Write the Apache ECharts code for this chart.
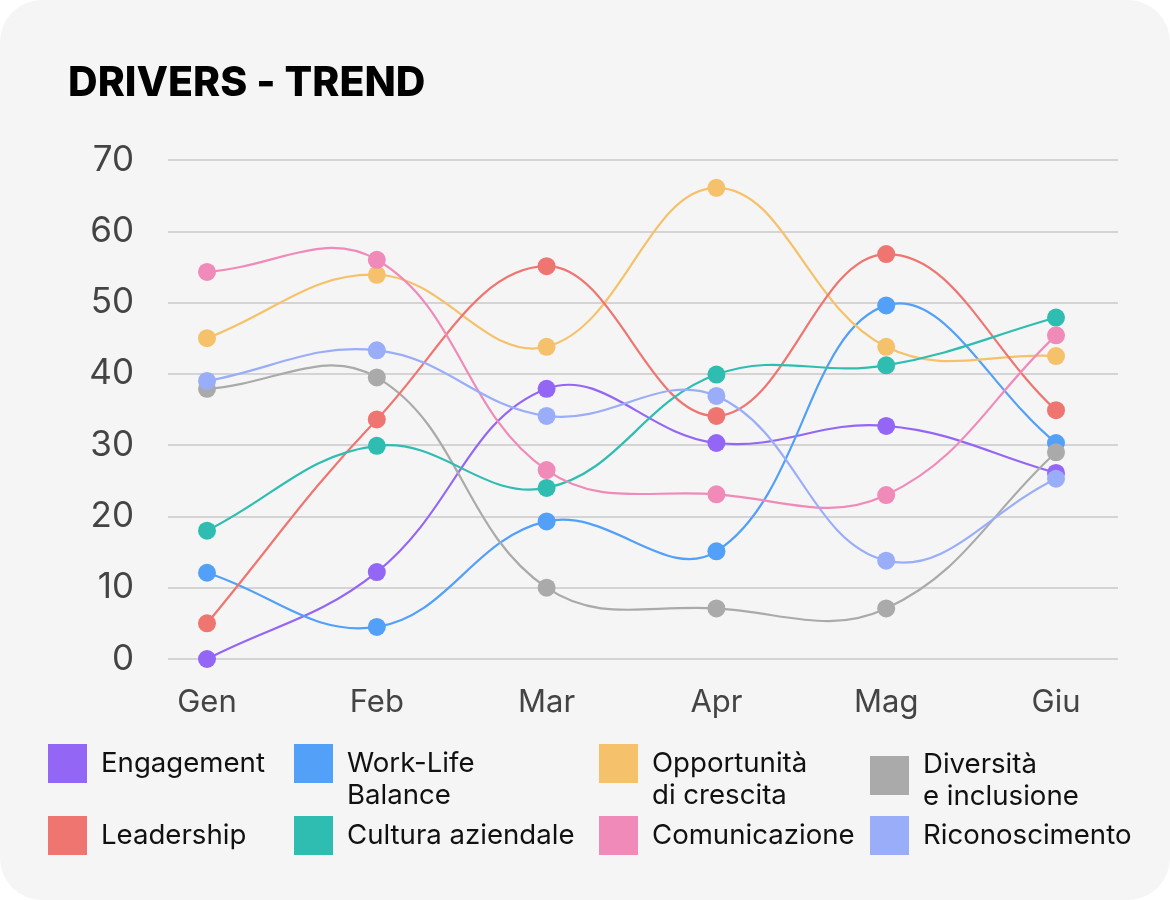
<!DOCTYPE html>
<html>
<head>
<meta charset="utf-8">
<script src="https://cdn.jsdelivr.net/npm/echarts@6/dist/echarts.min.js"></script>
<style>
  html, body { margin: 0; padding: 0; background: #ffffff; }
  #card { width: 1170px; height: 900px; background: #f5f5f5; border-radius: 42px; overflow: hidden; }
  #chart { width: 1170px; height: 900px; }
</style>
</head>
<body>
<div id="card"><div id="chart"></div></div>
<script>
const months = ["Gen", "Feb", "Mar", "Apr", "Mag", "Giu"];

const engagement = [0, 12.2, 37.9, 30.3, 32.7, 26.1];
const workLife = [12.1, 4.5, 19.3, 15.1, 49.6, 30.3];
const opportunita = [45, 53.9, 43.8, 66.1, 43.8, 42.5];
const diversita = [37.9, 39.5, 10, 7.1, 7.1, 29];
const leadership = [5, 33.6, 55.1, 34.1, 56.8, 34.9];
const cultura = [18, 29.9, 24, 39.9, 41.2, 47.9];
const comunicazione = [54.3, 56, 26.5, 23.1, 23, 45.4];
const riconoscimento = [39, 43.3, 34.1, 36.9, 13.8, 25.3];

const FONT = "Inter";
const LEGEND_SIZE = 27.6;
const TENSION = 0.4;

const drivers = [
  { name: "Engagement", label: "Engagement", color: "#9466f5", data: engagement, left: 48, top: 744 },
  { name: "Work-Life Balance", label: "\nWork-Life\nBalance", color: "#52a0f8", data: workLife, left: 294, top: 715.5 },
  { name: "Opportunità di crescita", label: "\nOpportunità\ndi crescita", color: "#f5c26b", data: opportunita, left: 599, top: 715.5 },
  { name: "Diversità e inclusione", label: "{s| }\n{d|Diversità}\n{d|e inclusione}", color: "#aaaaab", data: diversita, left: 870, top: 738.5 },
  { name: "Leadership", label: "Leadership", color: "#ef7571", data: leadership, left: 48, top: 816 },
  { name: "Cultura aziendale", label: "Cultura aziendale", color: "#2fbdb1", data: cultura, left: 294, top: 816 },
  { name: "Comunicazione", label: "Comunicazione", color: "#f08ab9", data: comunicazione, left: 599, top: 816 },
  { name: "Riconoscimento", label: "Riconoscimento", color: "#9aadf8", data: riconoscimento, left: 870, top: 816 },
];

// cardinal spline control points around cur (tension t)
function controlPoints(prev, cur, next, t) {
  const d01 = Math.hypot(cur[0] - prev[0], cur[1] - prev[1]);
  const d12 = Math.hypot(next[0] - cur[0], next[1] - cur[1]);
  let s01 = d01 / (d01 + d12);
  let s12 = d12 / (d01 + d12);
  if (isNaN(s01)) s01 = 0;
  if (isNaN(s12)) s12 = 0;
  const fa = t * s01;
  const fb = t * s12;
  return {
    prev: [cur[0] - fa * (next[0] - prev[0]), cur[1] - fa * (next[1] - prev[1])],
    next: [cur[0] + fb * (next[0] - prev[0]), cur[1] + fb * (next[1] - prev[1])],
  };
}

function curveRenderer(values, color) {
  return function (params, api) {
    const i = params.dataIndex;
    const n = values.length;
    if (i >= n - 1) return null;
    const pt = (k) => api.coord([k, values[k]]);
    const p0 = pt(Math.max(i - 1, 0));
    const p1 = pt(i);
    const p2 = pt(i + 1);
    const p3 = pt(Math.min(i + 2, n - 1));
    const c1 = controlPoints(p0, p1, p2, TENSION);
    const c2 = controlPoints(p1, p2, p3, TENSION);
    return {
      type: "bezierCurve",
      shape: {
        x1: p1[0], y1: p1[1],
        x2: p2[0], y2: p2[1],
        cpx1: c1.next[0], cpy1: c1.next[1],
        cpx2: c2.prev[0], cpy2: c2.prev[1],
      },
      style: { stroke: color, lineWidth: 2.2, fill: null },
      silent: true,
    };
  };
}

const chart = echarts.init(document.getElementById("chart"));

const curveSeries = drivers.map((d) => ({
  type: "custom",
  coordinateSystem: "cartesian2d",
  xAxisIndex: 1,
  yAxisIndex: 1,
  data: d.data.map((v, i) => [i, v]),
  encode: { x: 0, y: 1 },
  renderItem: curveRenderer(d.data, d.color),
  z: 2,
}));

const markerSeries = drivers.map((d) => ({
  name: d.name,
  type: "line",
  xAxisIndex: 1,
  yAxisIndex: 1,
  data: d.data,
  symbol: "circle",
  symbolSize: 18,
  showSymbol: true,
  color: d.color,
  lineStyle: { width: 0, opacity: 0 },
  itemStyle: { color: d.color },
  z: 3,
}));

const option = {
  backgroundColor: "transparent",
  animation: false,
  title: {
    text: "DRIVERS - TREND",
    left: 68,
    top: 63,
    padding: 0,
    textStyle: { fontFamily: FONT, fontWeight: 800, fontSize: 41, color: "#000000" },
  },
  legend: drivers.map((d) => ({
    data: [d.name],
    left: d.left,
    top: d.top,
    padding: 0,
    selectedMode: false,
    icon: "rect",
    itemWidth: 39,
    itemHeight: 39,
    formatter: () => d.label,
    textStyle: {
      fontFamily: FONT,
      fontSize: LEGEND_SIZE,
      color: "#111111",
      lineHeight: 32,
      padding: [0, 0, 0, 9],
      rich: {
        s: { fontSize: 6, lineHeight: 10 },
        d: { fontFamily: FONT, fontSize: LEGEND_SIZE, color: "#111111", lineHeight: 32 },
      },
    },
  })),
  grid: [
    { left: 168, right: 52, top: 160, bottom: 241 },
    { left: 207, right: 114, top: 160, bottom: 241 },
  ],
  xAxis: [
    {
      gridIndex: 0,
      type: "category",
      data: months,
      show: false,
    },
    {
      gridIndex: 1,
      type: "category",
      boundaryGap: false,
      data: months,
      axisLine: { show: false },
      axisTick: { show: false },
      axisLabel: { fontFamily: FONT, fontSize: 31, color: "#444444", margin: 28 },
    },
  ],
  yAxis: [
    {
      gridIndex: 0,
      type: "value",
      min: 0,
      max: 70,
      interval: 10,
      axisLine: { show: false },
      axisTick: { show: false },
      axisLabel: { fontFamily: FONT, fontSize: 35, color: "#444444", margin: 34 },
      splitLine: { lineStyle: { color: "#c9c9c9", width: 1.5 } },
    },
    {
      gridIndex: 1,
      type: "value",
      min: 0,
      max: 70,
      interval: 10,
      show: false,
      splitLine: { show: false },
    },
  ],
  series: curveSeries.concat(markerSeries),
};

chart.setOption(option);
</script>
</body>
</html>
